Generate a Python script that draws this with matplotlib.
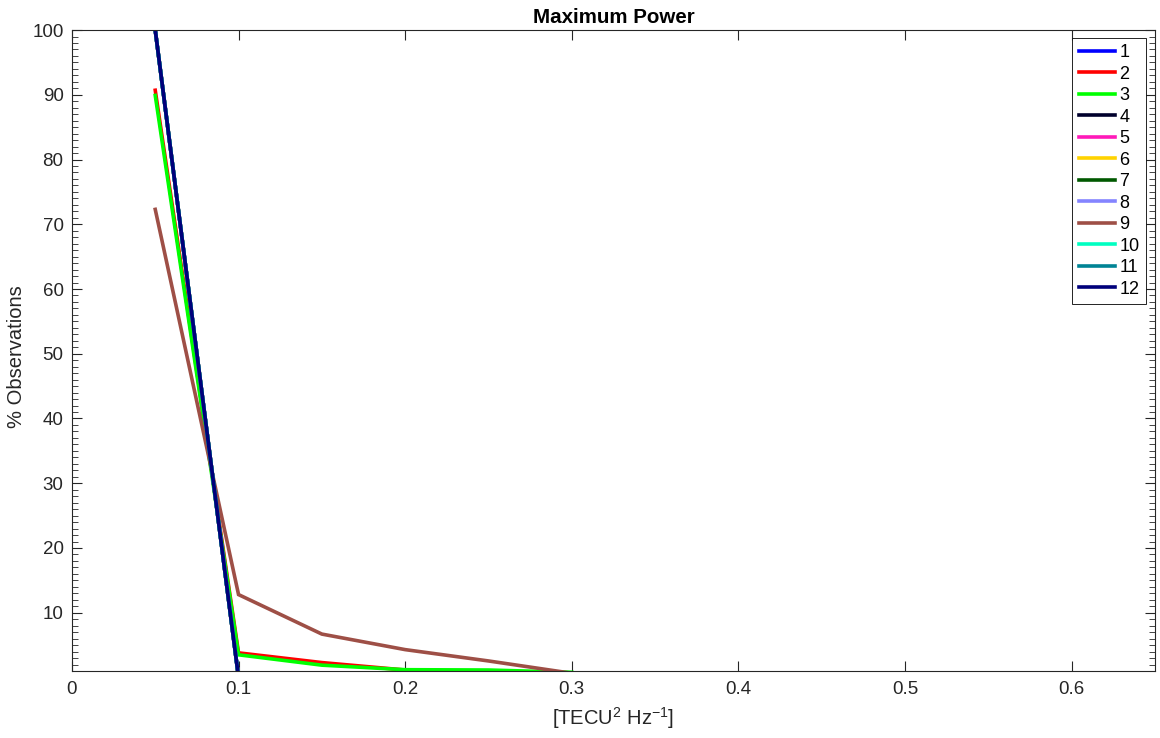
import matplotlib
matplotlib.use("Agg")
import matplotlib.pyplot as plt
from matplotlib.ticker import MultipleLocator

plt.rcParams['font.family'] = ['Liberation Sans', 'DejaVu Sans']
plt.rcParams['mathtext.fontset'] = 'custom'
plt.rcParams['mathtext.rm'] = 'Liberation Sans'

# Bin centres of maximum power [TECU^2 Hz^-1]
power_bins = [0.05, 0.10, 0.15, 0.20, 0.25, 0.30]

# Percentage of observations per bin for each of the 12 series
series_labels = [str(i) for i in range(1, 13)]
single_bin = [100.0, 0.0, 0.0, 0.0, 0.0, 0.0]
series_2 = [90.7, 3.8, 2.3, 1.15, 0.5, 0.0]
series_3 = [89.9, 3.5, 1.9, 1.2, 1.15, 0.8]
series_9 = [72.3, 12.8, 6.7, 4.3, 2.55, 0.65]

series_values = [
    single_bin, series_2, series_3, single_bin, single_bin, single_bin,
    single_bin, single_bin, series_9, single_bin, single_bin, single_bin,
]

series_colors = [
    (0.0, 0.0, 1.0), (1.0, 0.0, 0.0), (0.0, 1.0, 0.0), (0.0, 0.0, 0.1724),
    (1.0, 0.1034, 0.7241), (1.0, 0.8276, 0.0), (0.0, 0.3448, 0.0),
    (0.5172, 0.5172, 1.0), (0.6207, 0.3103, 0.2759), (0.0, 1.0, 0.7586),
    (0.0, 0.5172, 0.5862), (0.0, 0.0, 0.4828),
]

x_ticks = [0, 0.1, 0.2, 0.3, 0.4, 0.5, 0.6]
x_tick_labels = ['0', '0.1', '0.2', '0.3', '0.4', '0.5', '0.6']
y_ticks = [10, 20, 30, 40, 50, 60, 70, 80, 90, 100]

fig = plt.figure(figsize=(11.6, 7.38), dpi=100)
ax = fig.add_axes([0.062, 0.0908, 0.9337, 0.8685])

for vals, col, lab in zip(series_values, series_colors, series_labels):
    ax.plot(power_bins, vals, color=col, lw=2.6, label=lab,
            solid_joinstyle='miter')

ax.set_xlim(0, 0.65)
ax.set_ylim(1, 100)
ax.set_xticks(x_ticks)
ax.set_xticklabels(x_tick_labels)
ax.set_yticks(y_ticks)
ax.yaxis.set_minor_locator(MultipleLocator(1))

axis_grey = (0.15, 0.15, 0.15)
for sp in ax.spines.values():
    sp.set_color(axis_grey)
    sp.set_linewidth(0.8)
ax.tick_params(which='both', direction='in', top=True, right=True,
               color=axis_grey, labelcolor=axis_grey, labelsize=13.5)
ax.tick_params(which='major', length=7, width=0.8, pad=6)
ax.tick_params(axis='x', which='major', pad=7)
ax.tick_params(which='minor', length=4, width=0.6)
ax.tick_params(axis='x', which='minor', bottom=False, top=False)

ax.set_title('Maximum Power', fontsize=14.8, fontweight='bold', pad=5)
ax.set_xlabel(r'[TECU$^{2}$ Hz$^{-1}$]', fontsize=14.5, color=axis_grey,
              labelpad=5)
ax.set_ylabel('% Observations', fontsize=14.5, color=axis_grey)
ax.yaxis.set_label_coords(-0.042, 0.491)

leg = ax.legend(loc='upper right', bbox_to_anchor=(0.9915, 0.988),
                fontsize=13, handlelength=2.0, handletextpad=0.25,
                labelspacing=0.25, borderpad=0.35, borderaxespad=0.0,
                fancybox=False, framealpha=1.0)
leg.get_frame().set_edgecolor('black')
leg.get_frame().set_linewidth(0.6)
for h in leg.get_lines():
    h.set_linewidth(2.6)

fig.savefig('out.png', dpi=100)
